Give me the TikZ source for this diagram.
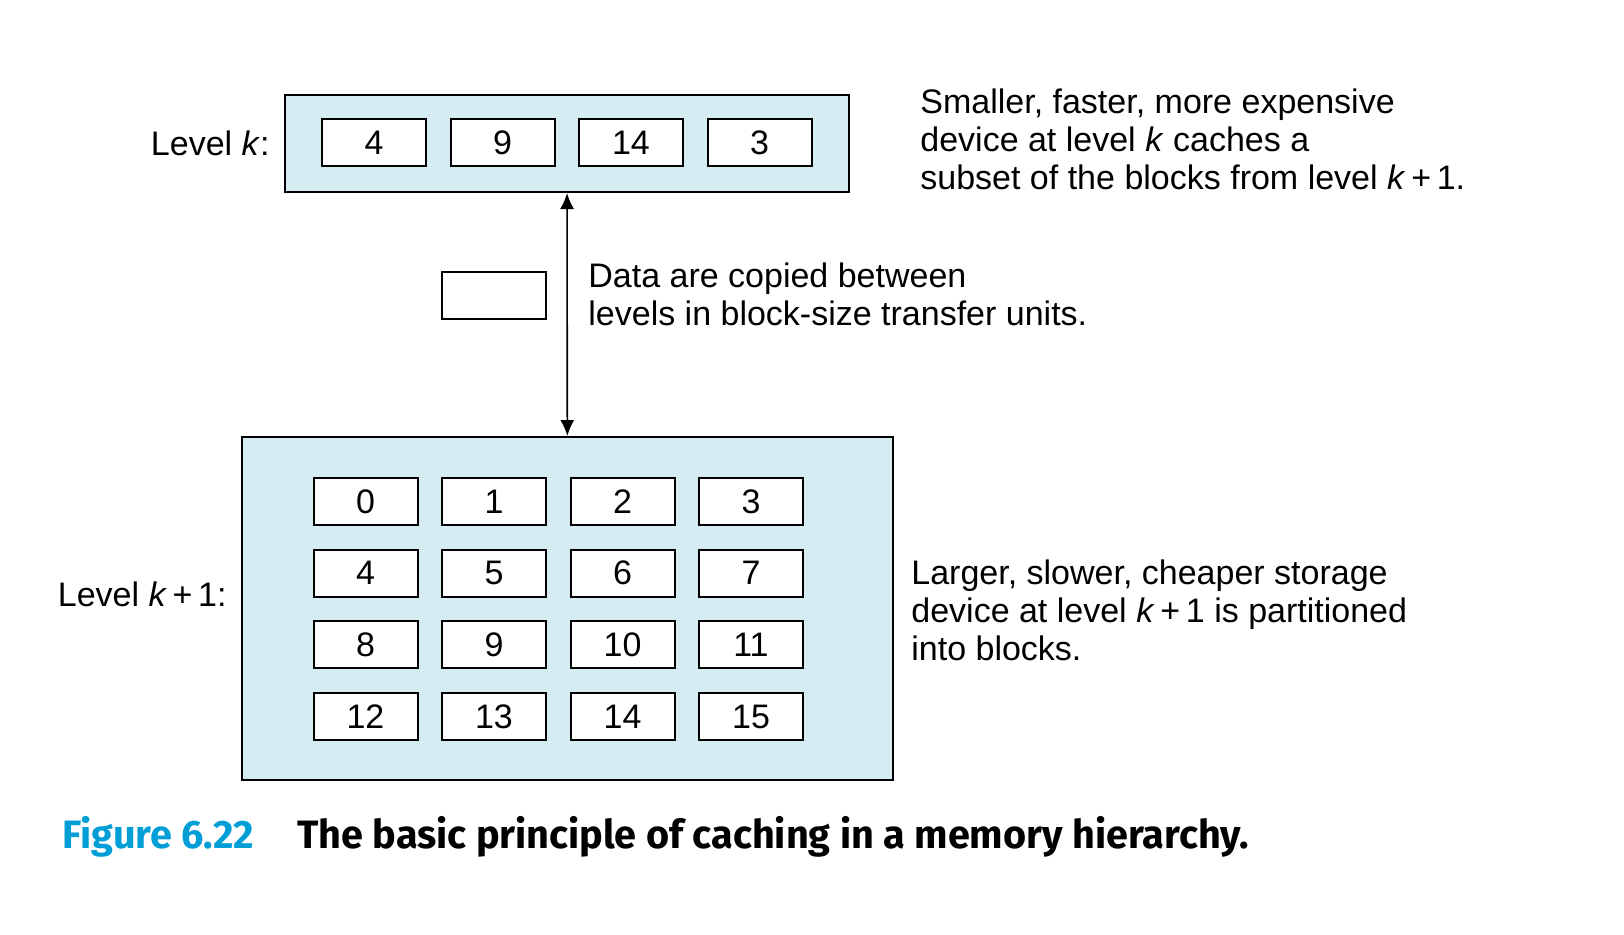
\documentclass[tikz,border=0pt]{standalone}
\usepackage{fontspec}
\setmainfont{Liberation Sans}
\newfontfamily\capfont{Fira Sans}
\usetikzlibrary{positioning,arrows.meta}
\definecolor{levelblue}{RGB}{214,236,243}
\definecolor{capblue}{RGB}{0,158,215}
\tikzstyle{level} = [rectangle, draw, line width=1pt, fill=levelblue, inner sep=0pt]
\tikzstyle{block} = [rectangle, draw, line width=1pt, fill=white,
    minimum width=52pt, minimum height=23.5pt, inner sep=0pt, font=\fontsize{17}{19}\selectfont]
\tikzstyle{line} = [draw, line width=0.8pt, {Latex[length=8pt,width=7pt]}-{Latex[length=8pt,width=7pt]}]
\tikzstyle{note} = [align=left, inner sep=0pt, font=\fontsize{17}{19}\selectfont]
\tikzstyle{caption} = [anchor=west, inner sep=0pt, font=\capfont\bfseries\fontsize{19.8}{22}\selectfont]

\begin{document}
\begin{tikzpicture}[x=0.5pt, y=-0.5pt, node distance=64.25pt]
\useasboundingbox (0,0) rectangle (1624,934);
% level k
\node [level, minimum width=282pt, minimum height=48.5pt] (top) at (567,143.5) {};
\node [block] (t1) at (374,142.5) {4};
\node [block, right of=t1] (t2) {9};
\node [block, right of=t2] (t3) {14};
\node [block, right of=t3] (t4) {3};
\node [note, left=7pt of top] (lk) {Level \textit{k}:};
\node [note, right=35pt of top, yshift=2pt] (topnote) {Smaller, faster, more expensive\\
    device at level \textit{k} caches a\\subset of the blocks from level \textit{k}\,+\,1.};
% level k+1
\node [level, minimum width=325.5pt, minimum height=171.5pt] (bot) at (567.5,608.5) {};
\node [block] (b0) at (365.5,501.5) {0};
\node [block, right of=b0] (b1) {1};
\node [block, right of=b1] (b2) {2};
\node [block, right of=b2] (b3) {3};
\node [block, below of=b0, node distance=35.85pt] (b4) {4};
\node [block, right of=b4] (b5) {5};
\node [block, right of=b5] (b6) {6};
\node [block, right of=b6] (b7) {7};
\node [block, below of=b4, node distance=35.85pt] (b8) {8};
\node [block, right of=b8] (b9) {9};
\node [block, right of=b9] (b10) {10};
\node [block, right of=b10] (b11) {11};
\node [block, below of=b8, node distance=35.85pt] (b12) {12};
\node [block, right of=b12] (b13) {13};
\node [block, right of=b13] (b14) {14};
\node [block, right of=b14] (b15) {15};
\node [note, left=7pt of bot, yshift=7pt] (lk1) {Level \textit{k}\,+\,1:};
\node [note, right=8.5pt of bot, yshift=-1pt] (botnote) {Larger, slower, cheaper storage\\
    device at level \textit{k}\,+\,1 is partitioned\\into blocks.};
% transfer
\node [block] (unit) at (494,295.5) {};
\node [note, anchor=west] (datanote) at (588,294) {Data are copied between\\levels in block-size transfer units.};
\path [line] (top) -- (bot);
% caption
\node [caption, text=capblue] (fig) at (62,837) {Figure 6.22};
\node [caption] (captext) at (297,837) {The basic principle of caching in a memory hierarchy.};
\end{tikzpicture}
\end{document}
